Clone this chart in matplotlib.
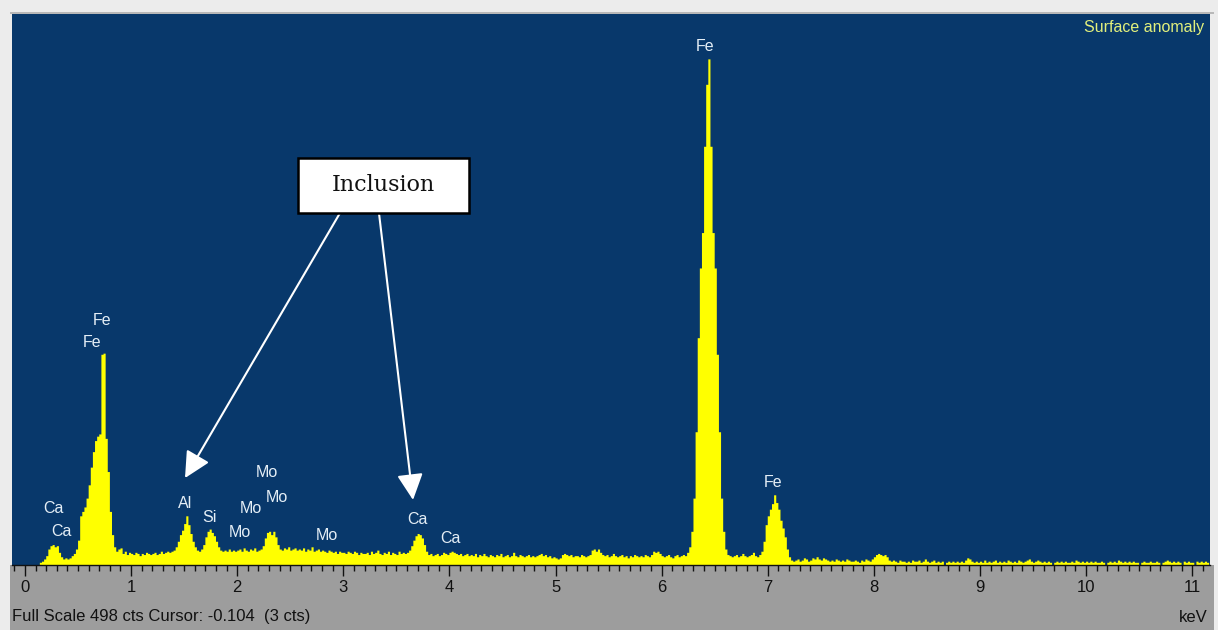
import numpy as np
import matplotlib
matplotlib.use("Agg")
import matplotlib.pyplot as plt
from matplotlib.patches import Rectangle
from matplotlib.ticker import MultipleLocator

# ---------------- data ----------------
channel_width_kev = 0.02
counts = [
    0, 0, 0, 0, 0, 0, 0, 2, 3, 5,            # 0.00-0.20
    8, 14, 17, 18, 16, 17, 11, 7, 5, 6,      # 0.20
    5, 6, 8, 10, 14, 22, 44, 48, 52, 60,     # 0.40
    72, 88, 102, 112, 116, 118, 190, 191, 114, 84,  # 0.60
    48, 27, 16, 12, 14, 15, 10, 12, 9, 11,   # 0.80
    10, 9, 11, 10, 8, 10, 9, 11, 10, 9,      # 1.00
    10, 11, 9, 10, 12, 10, 11, 12, 11, 12,   # 1.20
    13, 16, 21, 27, 31, 37, 44, 36, 28, 21,  # 1.40
    16, 13, 12, 14, 18, 25, 30, 32, 29, 26,  # 1.60
    21, 16, 13, 12, 13, 12, 14, 12, 13, 12,  # 1.80
    13, 14, 12, 15, 13, 12, 14, 13, 15, 12,  # 2.00
    13, 14, 17, 24, 29, 30, 27, 30, 25, 18,  # 2.20
    14, 13, 15, 14, 16, 13, 14, 15, 13, 14,  # 2.40
    13, 15, 12, 14, 13, 16, 12, 13, 14, 12,  # 2.60
    13, 12, 11, 13, 12, 11, 12, 10, 12, 11,  # 2.80
    11, 10, 12, 11, 10, 12, 11, 9, 11, 10,   # 3.00
    10, 11, 9, 12, 10, 11, 13, 10, 9, 11,    # 3.20
    10, 12, 9, 11, 10, 9, 12, 10, 11, 10,    # 3.40
    11, 13, 17, 22, 26, 28, 27, 24, 18, 12,  # 3.60
    9, 10, 8, 9, 10, 8, 9, 11, 10, 9,        # 3.80
    11, 12, 11, 10, 9, 10, 8, 9, 10, 8,      # 4.00
    9, 8, 10, 7, 9, 8, 10, 8, 7, 9,          # 4.20
    8, 7, 9, 8, 10, 7, 8, 9, 7, 8,           # 4.40
    11, 8, 7, 9, 8, 7, 8, 9, 7, 8,           # 4.60
    7, 8, 9, 10, 8, 9, 7, 8, 6, 7,           # 4.80
    6, 5, 6, 9, 10, 9, 8, 9, 7, 8,           # 5.00
    8, 7, 9, 8, 7, 8, 9, 13, 14, 12,         # 5.20
    14, 11, 9, 8, 9, 7, 8, 10, 8, 7,         # 5.40
    8, 9, 7, 8, 6, 8, 7, 9, 8, 7,            # 5.60
    8, 7, 9, 8, 7, 9, 12, 11, 12, 10,        # 5.80
    8, 7, 8, 9, 7, 6, 8, 9, 7, 8,            # 6.00
    9, 8, 11, 16, 30, 60, 120, 205, 268, 300,  # 6.20
    378, 434, 457, 378, 300, 268, 190, 120, 60, 30,  # 6.40
    14, 9, 8, 7, 8, 9, 7, 8, 10, 8,          # 6.60
    7, 8, 9, 11, 8, 7, 9, 12, 21, 36,        # 6.80
    44, 50, 55, 63, 56, 50, 40, 33, 25, 14,  # 7.00
    7, 4, 3, 4, 5, 3, 4, 6, 5, 3,            # 7.20
    4, 6, 5, 7, 5, 4, 6, 5, 4, 3,            # 7.40
    4, 3, 5, 4, 3, 4, 3, 5, 4, 3,            # 7.60
    3, 4, 3, 2, 4, 3, 5, 4, 3, 5,            # 7.80
    7, 9, 10, 9, 8, 9, 7, 4, 3, 4,           # 8.00
    3, 2, 4, 3, 3, 2, 3, 2, 4, 3,            # 8.20
    3, 4, 2, 3, 5, 3, 2, 3, 4, 2,            # 8.40
    3, 2, 3, 0, 2, 3, 2, 3, 2, 3,            # 8.60
    2, 3, 2, 4, 6, 5, 3, 2, 3, 2,            # 8.80
    3, 2, 4, 2, 3, 2, 3, 4, 2, 3,            # 9.00
    2, 3, 2, 4, 3, 2, 3, 2, 4, 3,            # 9.20
    2, 3, 4, 5, 3, 2, 3, 4, 3, 2,            # 9.40
    3, 2, 3, 2, 0, 2, 3, 2, 3, 2,            # 9.60
    3, 2, 2, 3, 2, 4, 3, 2, 3, 2,            # 9.80
    3, 2, 3, 2, 3, 2, 2, 3, 2, 0,            # 10.00
    2, 3, 2, 3, 2, 4, 3, 2, 3, 2,            # 10.20
    3, 2, 3, 2, 2, 0, 2, 3, 2, 2,            # 10.40
    3, 2, 2, 3, 2, 0, 2, 3, 4, 3,            # 10.60
    2, 3, 2, 3, 2, 0, 3, 2, 3, 2,            # 10.80
    2, 0, 3, 2, 3, 2, 3, 2,                  # 11.00-11.16
]

peak_labels = ["Fe", "Fe", "Ca", "Ca", "Al", "Si", "Mo", "Mo", "Mo", "Mo",
               "Mo", "Ca", "Ca", "Fe", "Fe"]
label_kev = [0.726, 0.631, 0.264, 0.339, 1.508, 1.734, 2.281, 2.375, 2.130,
             2.026, 2.846, 3.695, 4.006, 6.409, 7.050]
label_cts = [221, 201, 51, 30, 56, 43, 84, 61, 51, 29, 27, 41, 24, 469, 75]

tick_values = list(range(0, 12))
full_scale = 498
x_range = (-0.1225, 11.168)

title_text = "Surface anomaly"
footer_text = "Full Scale 498 cts Cursor: -0.104  (3 cts)"
unit_text = "keV"
callout_text = "Inclusion"
callout_box = (2.573, 318.2, 4.185, 367.9)      # x0, y0, x1, y1 in data units
arrow_starts = [(2.969, 318.2), (3.336, 318.2)]
arrow_tips = [(1.508, 78.6), (3.657, 58.8)]

# ---------------- figure ----------------
W, H = 1218, 630
fig = plt.figure(figsize=(W / 100, H / 100), dpi=100, facecolor="#ececec")

# grey scale strip below the plot (drawn behind the axes)
fig.patches.append(Rectangle((10 / W, 0), 1204 / W, 65 / H, transform=fig.transFigure,
                             facecolor="#9d9d9d", edgecolor="none", zorder=-5))
# thin darker line above the plot
fig.patches.append(Rectangle((10 / W, (630 - 14) / H), 1204 / W, 2 / H,
                             transform=fig.transFigure, facecolor="#b8b8b8",
                             edgecolor="none", zorder=-5))

ax = fig.add_axes([12 / W, 65 / H, 1198 / W, (565 - 14) / H])
ax.set_zorder(1)
ax.set_facecolor("#08386b")

edges = np.arange(len(counts) + 1) * channel_width_kev
ax.stairs(counts, edges, fill=True, color="#ffff00", baseline=0, zorder=2)

ax.set_xlim(*x_range)
ax.set_ylim(0, full_scale)

for s in ["left", "top", "right"]:
    ax.spines[s].set_visible(False)
ax.spines["bottom"].set_color("#111111")
ax.spines["bottom"].set_linewidth(1.0)

ax.set_xticks(tick_values)
ax.set_xticklabels([str(v) for v in tick_values])
ax.xaxis.set_minor_locator(MultipleLocator(0.1))
ax.tick_params(axis="x", which="major", direction="out", length=8, width=1.0,
               color="#111111", labelsize=12, labelcolor="#111111", pad=3)
ax.tick_params(axis="x", which="minor", direction="out", length=4.5, width=1.0,
               color="#111111")
for lab in ax.get_xticklabels():
    lab.set_fontfamily("Liberation Sans")
ax.set_yticks([])

lab_color = "#e4eef6"
for t, xv, yv in zip(peak_labels, label_kev, label_cts):
    ax.text(xv, yv, t, ha="center", va="center", fontsize=11.5, color=lab_color,
            family="Liberation Sans", zorder=4)

ax.text(0.9955, 0.975, title_text, transform=ax.transAxes, ha="right", va="center",
        fontsize=11.5, color="#e2f07c", family="Liberation Sans")

# callout box
x0, y0, x1, y1 = callout_box
ax.add_patch(Rectangle((x0, y0), x1 - x0, y1 - y0, facecolor="white",
                       edgecolor="black", linewidth=1.8, zorder=5))
ax.text((x0 + x1) / 2, (y0 + y1) / 2, callout_text, ha="center", va="center",
        fontsize=16, family="DejaVu Serif", color="#111111", zorder=6)
for (sx, sy), (tx, ty) in zip(arrow_starts, arrow_tips):
    ax.annotate("", xy=(tx, ty), xytext=(sx, sy),
                arrowprops=dict(arrowstyle="-|>,head_length=1.0,head_width=0.5",
                                color="white", lw=1.5, shrinkA=0, shrinkB=0,
                                mutation_scale=16),
                zorder=4)

fig.text(12 / W, 1 - 617 / H, footer_text, ha="left", va="center", fontsize=12,
         color="#111111", family="Liberation Sans")
fig.text(1208 / W, 1 - 617 / H, unit_text, ha="right", va="center", fontsize=12,
         color="#111111", family="Liberation Sans")

fig.savefig("out.png", dpi=100, facecolor=fig.get_facecolor())
